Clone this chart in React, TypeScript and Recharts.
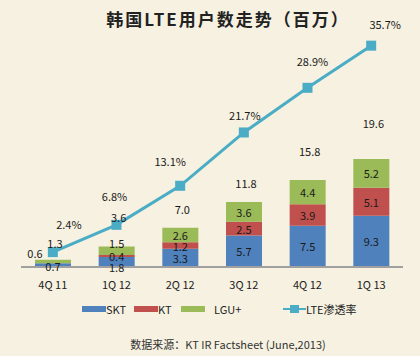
import React from "react";
import { ComposedChart, Bar, Line, XAxis, YAxis, LabelList } from "recharts";

const QUARTERS = ["4Q 11", "1Q 12", "2Q 12", "3Q 12", "4Q 12", "1Q 13"];
const SKT = [0.7, 1.8, 3.3, 5.7, 7.5, 9.3];
const KT = [0, 0.4, 1.2, 2.5, 3.9, 5.1];
const LGU = [0.6, 1.5, 2.6, 3.6, 4.4, 5.2];
const TOTALS = [1.3, 3.6, 7.0, 11.8, 15.8, 19.6];
const PENETRATION = [2.4, 6.8, 13.1, 21.7, 28.9, 35.7];

const BG = "#F6F1E0";
const FONT = "'Noto Sans CJK SC', 'Noto Sans', sans-serif";

// label nudges
const TOTAL_LIFT = [17, 30, 19, 19, 29, 36];
const PCT_DX = [16, -2, -10, 1, 5, 14];
const PCT_DY = [-28, -29, -25, -17, -27, -22];

const data = QUARTERS.map((q, i) => ({
  q,
  skt: SKT[i],
  kt: KT[i],
  lgu: LGU[i],
  total: TOTALS[i],
  pct: PENETRATION[i],
}));

const box = (p: any) => {
  const vb = p.viewBox || {};
  return {
    x: p.x ?? vb.x ?? 0,
    y: p.y ?? vb.y ?? 0,
    w: p.width ?? vb.width ?? 0,
    h: p.height ?? vb.height ?? 0,
  };
};

const txt = { fontSize: 11, fill: "#1a1a1a", fontFamily: FONT } as const;

const label = (x: number, y: number, v: string) => (
  <text x={x} y={y} textAnchor="middle" dominantBaseline="central" {...txt}>
    {v}
  </text>
);

const sktLabel = (p: any) => {
  const { x, y, w, h } = box(p);
  const v = Number(p.value).toFixed(1);
  if (h < 6) return label(x + w / 2, y + h / 2 + 1, v);
  if (h < 12) return label(x + w / 2, y + h, v);
  return label(x + w / 2, y + h / 2, v);
};

const ktLabel = (p: any) => {
  const v = Number(p.value);
  if (!v) return null;
  const { x, y, w, h } = box(p);
  return label(x + w / 2, y + h / 2, v.toFixed(1));
};

const lguLabel = (p: any) => {
  const { x, y, w, h } = box(p);
  const v = Number(p.value).toFixed(1);
  if (h < 6) return label(x, y - 7, v); // tiny: off to the left
  if (h < 12) return label(x + w / 2, y - 4, v);
  return label(x + w / 2, y + h / 2, v);
};

const totalLabel = (p: any) => {
  const { x, y, w } = box(p);
  const i = p.index ?? 0;
  return label(x + w / 2 + 2, y - TOTAL_LIFT[i], TOTALS[i].toFixed(1));
};

const pctLabel = (p: any) => {
  const { x, y } = box(p);
  const i = p.index ?? 0;
  return label(x + PCT_DX[i], y + PCT_DY[i], `${PENETRATION[i].toFixed(1)}%`);
};

const squareDot = (p: any) => (
  <rect key={`dot-${p.index}`} x={p.cx - 5} y={p.cy - 5} width={10} height={10} fill="#4BACC6" />
);

const LEGEND = [
  { name: "SKT", color: "#4F81BD", left: 82, type: "bar" },
  { name: "KT", color: "#C0504D", left: 134, type: "bar" },
  { name: "LGU+", color: "#9BBB59", left: 181, type: "bar" },
  { name: "LTE渗透率", color: "#4BACC6", left: 283, type: "line" },
];

export default function App() {
  return (
    <div
      style={{
        position: "absolute",
        left: 0,
        top: 0,
        width: 420,
        height: 356,
        background: BG,
        fontFamily: FONT,
        overflow: "hidden",
      }}
    >
      <div
        style={{
          position: "absolute",
          left: 0,
          width: 456,
          top: 6,
          textAlign: "center",
          fontSize: 17,
          fontWeight: 700,
          color: "#222",
          letterSpacing: 2,
        }}
      >
        韩国LTE用户数走势（百万）
      </div>

      <ComposedChart
        width={420}
        height={356}
        data={data}
        margin={{ top: 19, right: 17, bottom: 59, left: 21 }}
        style={{ position: "absolute", left: 0, top: 0 }}
      >
        <XAxis
          dataKey="q"
          tickLine={false}
          axisLine={{ stroke: "#a0a0a0", strokeWidth: 2 }}
          tick={{ fontSize: 11, fill: "#222", fontFamily: FONT }}
          tickMargin={8}
          height={30}
        />
        <YAxis yAxisId="bar" domain={[0, 45]} hide />
        <YAxis yAxisId="pct" domain={[0, 40]} hide />
        <Bar yAxisId="bar" dataKey="skt" stackId="a" fill="#4F81BD" barSize={36} isAnimationActive={false}>
          <LabelList dataKey="skt" content={sktLabel} />
        </Bar>
        <Bar yAxisId="bar" dataKey="kt" stackId="a" fill="#C0504D" barSize={36} isAnimationActive={false}>
          <LabelList dataKey="kt" content={ktLabel} />
        </Bar>
        <Bar yAxisId="bar" dataKey="lgu" stackId="a" fill="#9BBB59" barSize={36} isAnimationActive={false}>
          <LabelList dataKey="lgu" content={lguLabel} />
          <LabelList dataKey="total" content={totalLabel} />
        </Bar>
        <Line
          yAxisId="pct"
          dataKey="pct"
          stroke="#4BACC6"
          strokeWidth={3}
          dot={squareDot}
          activeDot={false}
          isAnimationActive={false}
        >
          <LabelList dataKey="pct" content={pctLabel} />
        </Line>
      </ComposedChart>

      {LEGEND.map((it) => (
        <div
          key={it.name}
          style={{
            position: "absolute",
            left: it.left,
            top: 301,
            height: 16,
            display: "flex",
            alignItems: "center",
            fontSize: 11,
            color: "#222",
          }}
        >
          {it.type === "bar" ? (
            <span style={{ display: "inline-block", width: 24, height: 6, background: it.color }} />
          ) : (
            <span style={{ position: "relative", display: "inline-block", width: 23, height: 8 }}>
              <span style={{ position: "absolute", left: 0, top: 3, width: 23, height: 2, background: it.color }} />
              <span style={{ position: "absolute", left: 7, top: 0, width: 9, height: 8, background: it.color }} />
            </span>
          )}
          <span style={{ marginLeft: it.name === "LGU+" ? 9 : 0 }}>{it.name}</span>
        </div>
      ))}

      <div
        style={{
          position: "absolute",
          left: 0,
          width: 456,
          top: 336,
          textAlign: "center",
          fontSize: 11,
          color: "#333",
        }}
      >
        数据来源：KT IR Factsheet (June,2013)
      </div>
    </div>
  );
}
